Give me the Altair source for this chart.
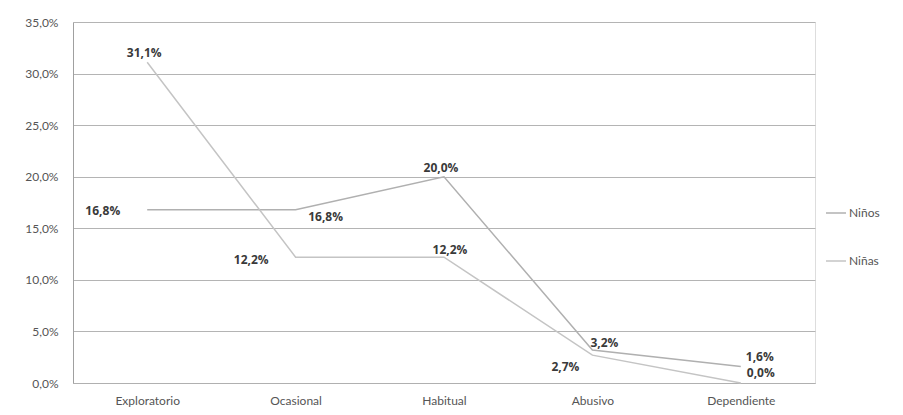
import altair as alt
import pandas as pd

categories = ["Exploratorio", "Ocasional", "Habitual", "Abusivo", "Dependiente"]
series_names = ["Niños", "Niñas"]
ninos = [16.8, 16.8, 20.0, 3.2, 1.6]
ninas = [31.1, 12.2, 12.2, 2.7, 0.0]
y_ticks = [0, 5, 10, 15, 20, 25, 30, 35]

# label placement style (per series / category)
label_place = {
    "Niños": ["left", "belowright", "above", "aboveright", "aboveright2"],
    "Niñas": ["above", "left2", "aboveright3", "belowleft", "right"],
}
place_style = {
    "left": dict(dx=-27, dy=1, align="right"),
    "left2": dict(dx=-27, dy=3, align="right"),
    "belowright": dict(dx=30, dy=7, align="center"),
    "above": dict(dx=-3, dy=-9, align="center"),
    "aboveright": dict(dx=12, dy=-7, align="center"),
    "aboveright2": dict(dx=19, dy=-9, align="center"),
    "aboveright3": dict(dx=6, dy=-7, align="center"),
    "belowleft": dict(dx=-27, dy=12, align="center"),
    "right": dict(dx=20, dy=-10, align="center"),
}

rows = []
for name, vals in zip(series_names, [ninos, ninas]):
    for i, (c, v) in enumerate(zip(categories, vals)):
        rows.append({"serie": name, "cat": c, "val": v,
                     "lbl": f"{v:.1f}%".replace(".", ","),
                     "place": label_place[name][i]})
df = pd.DataFrame(rows)

FONT = "Lato"
x_enc = alt.X("cat:N", sort=categories, title=None,
              scale=alt.Scale(type="point", padding=0.5),
              axis=alt.Axis(labelAngle=0, ticks=False, labelPadding=12,
                            labelFontSize=12, labelColor="#555555",
                            labelFont=FONT, domainColor="#b0b0b0", grid=False))
y_enc = alt.Y("val:Q", title=None,
              scale=alt.Scale(domain=[0, 35], nice=False),
              axis=alt.Axis(values=y_ticks, ticks=False, labelPadding=15,
                            labelFontSize=12, labelColor="#555555", labelFont=FONT,
                            labelExpr="replace(format(datum.value, '.1f'), '.', ',') + '%'",
                            domainColor="#a0a0a0", gridColor="#b4b4b4", gridWidth=1))

base = alt.Chart(df)
lines = base.mark_line(strokeWidth=1.5).encode(
    x=x_enc, y=y_enc,
    color=alt.Color("serie:N", sort=series_names,
                    scale=alt.Scale(domain=series_names, range=["#b0b0b0", "#c4c4c4"]),
                    legend=alt.Legend(title=None, orient="none", legendX=752, legendY=180,
                                      symbolType="stroke", symbolSize=400,
                                      symbolStrokeWidth=1.5, rowPadding=31,
                                      labelFont=FONT, labelFontSize=12,
                                      labelColor="#555555", labelOffset=2)),
    detail="serie:N",
)

layers = [lines]
for p, st in place_style.items():
    layers.append(
        base.transform_filter(alt.datum.place == p).mark_text(
            dx=st["dx"], dy=st["dy"], align=st["align"], baseline="middle",
            font="Open Sans", fontSize=12, fontWeight="bold", color="#3a3a3a"
        ).encode(x=alt.X("cat:N", sort=categories), y="val:Q", text="lbl:N")
    )

chart = alt.layer(*layers).properties(
    width=742, height=361,
    autosize=alt.AutoSizeParams(type="none"),
    padding={"left": 65, "top": 14, "right": 80, "bottom": 24},
).configure_view(stroke=None).configure(background="white")

chart.save("out.html", embed_options={"renderer": "svg", "actions": False})
